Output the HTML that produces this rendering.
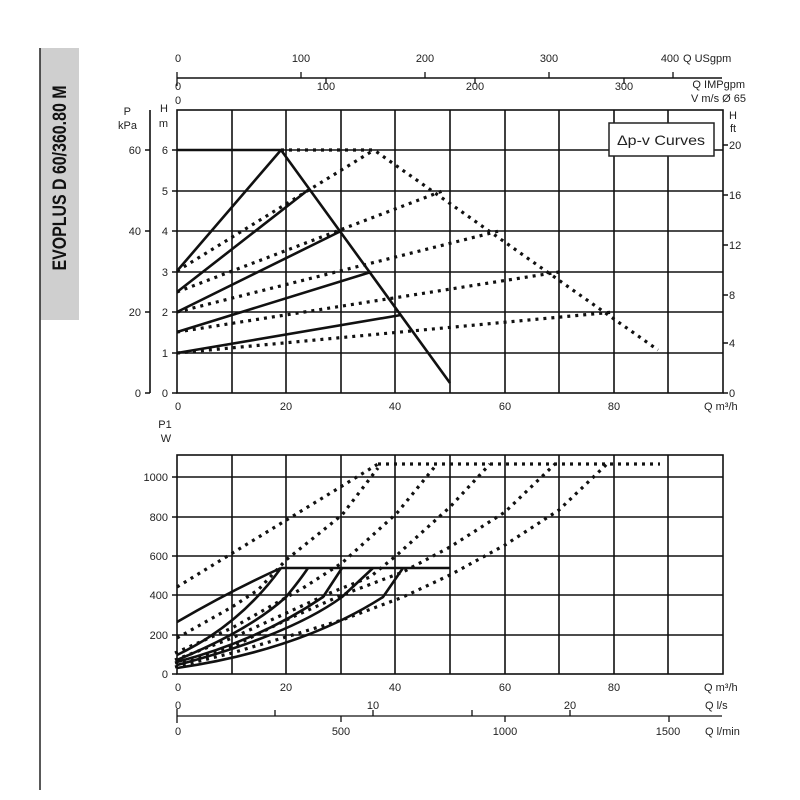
<!DOCTYPE html>
<html><head><meta charset="utf-8"><style>
body{margin:0;background:#fff}
svg{display:block}
text{font-family:"Liberation Sans",sans-serif;font-size:11px;fill:#222}
.g{stroke:#111;stroke-width:1.6;fill:none}
.s{stroke:#111;stroke-width:2.6;fill:none;stroke-linejoin:round}
.d{stroke:#111;stroke-width:3.2;fill:none;stroke-dasharray:3 5}
</style></head><body>
<svg width="800" height="800" viewBox="0 0 800 800">
<rect x="40" y="48" width="39" height="272" fill="#cfcfcf"/>
<line x1="40" y1="48" x2="40" y2="790" stroke="#222" stroke-width="1.5"/>
<text transform="translate(66,178) rotate(-90)" text-anchor="middle" style="font-size:19px;font-weight:bold;fill:#111" textLength="185" lengthAdjust="spacingAndGlyphs">EVOPLUS D 60/360.80 M</text>

<!-- top scales -->
<line x1="177" y1="78" x2="722" y2="78" class="g" stroke-width="1.3"/>
<g stroke="#111" stroke-width="1.3">
<line x1="177" y1="72" x2="177" y2="86"/><line x1="301" y1="72" x2="301" y2="78"/><line x1="425" y1="72" x2="425" y2="78"/><line x1="549" y1="72" x2="549" y2="78"/><line x1="673" y1="72" x2="673" y2="78"/>
<line x1="326" y1="78" x2="326" y2="84"/><line x1="475" y1="78" x2="475" y2="84"/><line x1="624" y1="78" x2="624" y2="84"/>
</g>
<g text-anchor="middle">
<text x="178" y="62">0</text><text x="301" y="62">100</text><text x="425" y="62">200</text><text x="549" y="62">300</text><text x="670" y="62">400</text>
<text x="178" y="90">0</text><text x="326" y="90">100</text><text x="475" y="90">200</text><text x="624" y="90">300</text>
<text x="178" y="104">0</text>
</g>
<text x="683" y="62">Q USgpm</text>
<text x="745" y="88" text-anchor="end">Q IMPgpm</text>
<text x="746" y="102" text-anchor="end">V m/s Ø 65</text>

<!-- top chart grid -->
<g class="g">
<rect x="177" y="110" width="546" height="283"/>
<path d="M232 110V393M286 110V393M341 110V393M395 110V393M450 110V393M505 110V393M559 110V393M614 110V393M668 110V393"/>
<path d="M177 150H723M177 191H723M177 231H723M177 272H723M177 312H723M177 353H723"/>
<path d="M150 110V393M145 150H150M145 231H150M145 312H150M145 393H150"/>
<path d="M172 150H177M172 191H177M172 231H177M172 272H177M172 312H177M172 353H177M172 393H177"/>
<path d="M723 145H728M723 195H728M723 245H728M723 295H728M723 343H728M723 393H728"/>
</g>
<g text-anchor="end">
<text x="131" y="115">P</text><text x="137" y="129">kPa</text>
<text x="141" y="154">60</text><text x="141" y="235">40</text><text x="141" y="316">20</text><text x="141" y="397">0</text>
<text x="168" y="112">H</text><text x="168" y="127">m</text>
<text x="168" y="154">6</text><text x="168" y="195">5</text><text x="168" y="235">4</text><text x="168" y="276">3</text><text x="168" y="316">2</text><text x="168" y="357">1</text><text x="168" y="397">0</text>
</g>
<text x="729" y="119">H</text><text x="730" y="132">ft</text>
<g><text x="729" y="149">20</text><text x="729" y="199">16</text><text x="729" y="249">12</text><text x="729" y="299">8</text><text x="729" y="347">4</text><text x="729" y="397">0</text></g>
<g text-anchor="middle">
<text x="178" y="410">0</text><text x="286" y="410">20</text><text x="395" y="410">40</text><text x="505" y="410">60</text><text x="614" y="410">80</text>
</g>
<text x="704" y="410">Q m³/h</text>

<rect x="609" y="123" width="105" height="33" fill="#fff" stroke="#222" stroke-width="1.5"/>
<text x="661" y="145" text-anchor="middle" style="font-size:14px" textLength="88" lengthAdjust="spacingAndGlyphs">Δp-v Curves</text>

<!-- top curves -->
<path class="s" d="M177 150H281L450 383"/>
<path class="s" d="M177 271L281 150M177 292L308 190M177 312L341 231M177 332L371 272M177 353L401 315"/>
<path class="d" d="M281 150H374L658 350"/>
<path class="d" d="M177 271L374 150M177 292L445 190M177 312L499 231M177 332L559 272M177 353L614 312"/>

<!-- bottom chart -->
<g class="g">
<rect x="177" y="455" width="546" height="219"/>
<path d="M232 455V674M286 455V674M341 455V674M395 455V674M450 455V674M505 455V674M559 455V674M614 455V674M668 455V674"/>
<path d="M177 477H723M177 517H723M177 556H723M177 595H723M177 635H723"/>
<path d="M172 477H177M172 517H177M172 556H177M172 595H177M172 635H177M172 674H177"/>
</g>
<text x="165" y="428" text-anchor="middle">P1</text><text x="166" y="442" text-anchor="middle">W</text>
<g text-anchor="end">
<text x="168" y="481">1000</text><text x="168" y="521">800</text><text x="168" y="560">600</text><text x="168" y="599">400</text><text x="168" y="639">200</text><text x="168" y="678">0</text>
</g>
<g text-anchor="middle">
<text x="178" y="691">0</text><text x="286" y="691">20</text><text x="395" y="691">40</text><text x="505" y="691">60</text><text x="614" y="691">80</text>
</g>
<text x="704" y="691">Q m³/h</text>

<path class="s" d="M281 568H450"/>
<path class="d" d="M378 464H660"/>
<path class="d" d="M177 587L378 464"/>
<path class="d" d="M177 638L232 607L258 590L286 560L342 515L378 468"/>
<path class="d" d="M175 653L232 628L303 588L342 563L397 513L437 464"/>
<path class="d" d="M175 660L232 638L330 593L370 577L397 555L450 507L490 464"/>
<path class="d" d="M175 663L232 647L286 620L342 595L403 572L450 547L505 512L555 464"/>
<path class="d" d="M175 667L232 653L286 637L342 620L403 597L450 575L505 545L559 510L607 464"/>
<path class="s" d="M177 622Q232 590 281 568"/>
<path class="s" d="M177 655Q240 625 281 568"/>
<path class="s" d="M177 660Q250 630 286 597Q300 580 308 568"/>
<path class="s" d="M177 662Q260 640 323 597L342 568"/>
<path class="s" d="M177 665Q290 635 342 597L373 568"/>
<path class="s" d="M177 668Q300 650 383 597L403 568"/>

<!-- bottom scales -->
<line x1="177" y1="716" x2="722" y2="716" stroke="#111" stroke-width="1.3"/>
<g stroke="#111" stroke-width="1.3">
<line x1="177" y1="709" x2="177" y2="723"/><line x1="275" y1="710" x2="275" y2="716"/><line x1="373" y1="710" x2="373" y2="716"/><line x1="472" y1="710" x2="472" y2="716"/><line x1="570" y1="710" x2="570" y2="716"/>
<line x1="341" y1="716" x2="341" y2="722"/><line x1="505" y1="716" x2="505" y2="722"/><line x1="669" y1="716" x2="669" y2="722"/>
</g>
<g text-anchor="middle">
<text x="178" y="709">0</text><text x="373" y="709">10</text><text x="570" y="709">20</text>
<text x="178" y="735">0</text><text x="341" y="735">500</text><text x="505" y="735">1000</text><text x="668" y="735">1500</text>
</g>
<text x="705" y="709">Q l/s</text>
<text x="705" y="735">Q l/min</text>
</svg>
</body></html>
